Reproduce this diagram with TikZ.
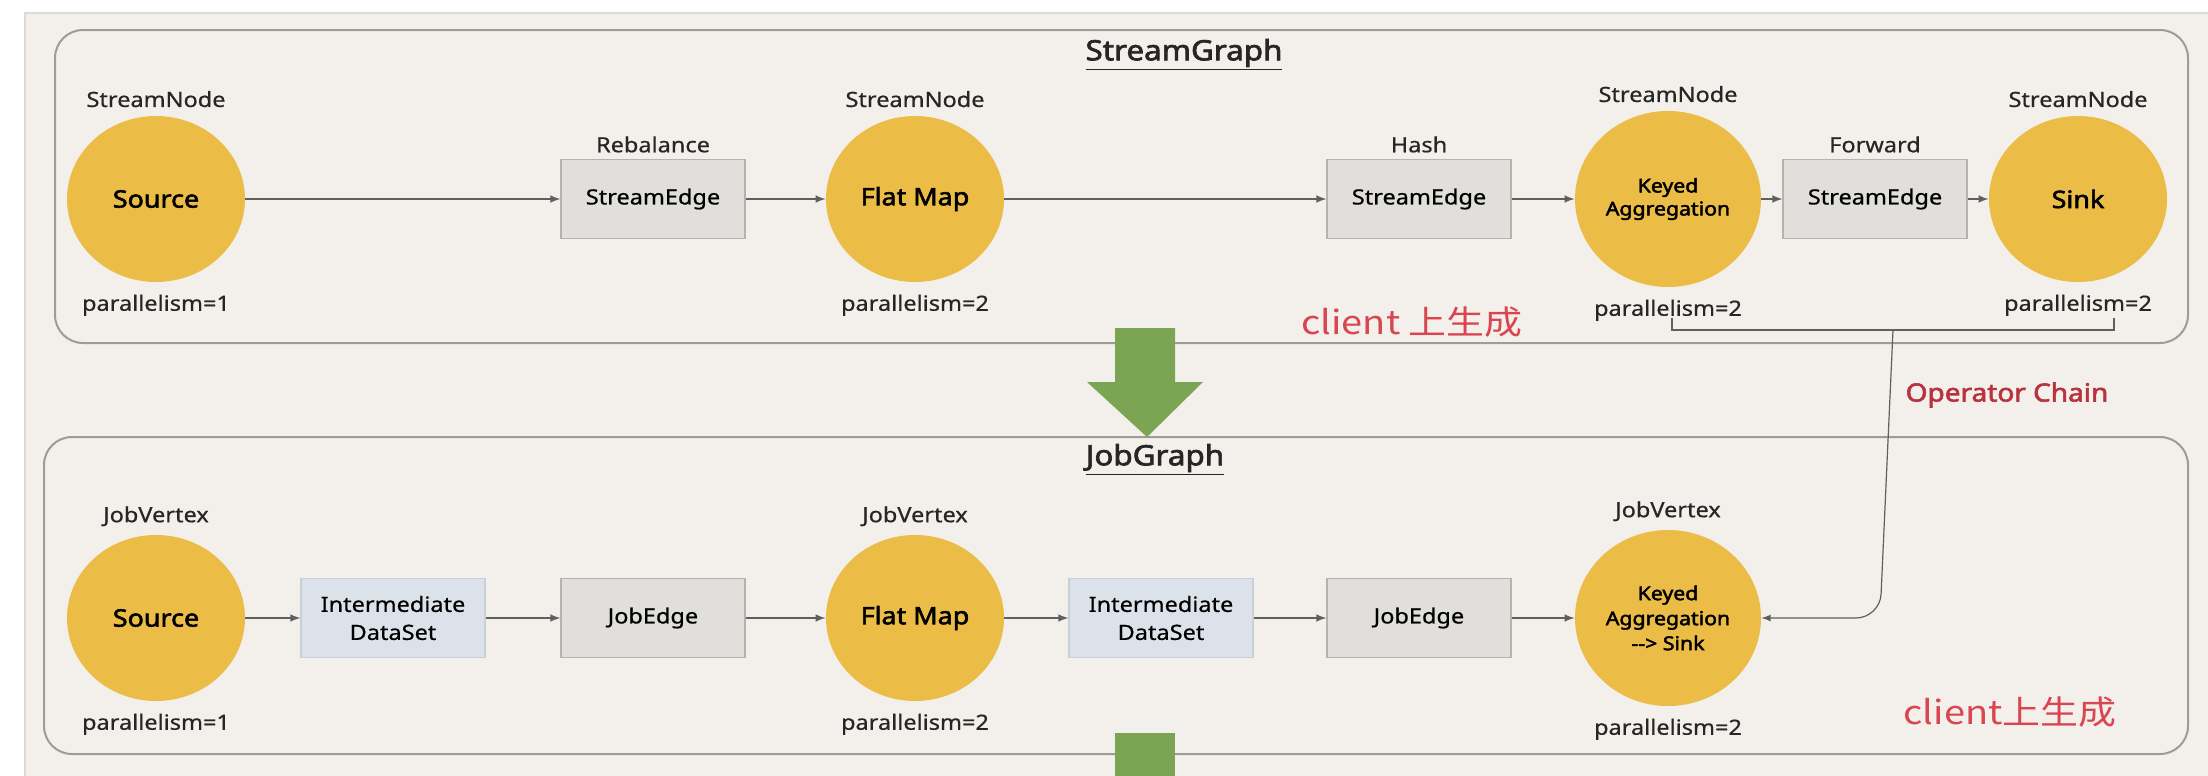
\documentclass[tikz,border=0pt]{standalone}
\usepackage{fontspec}
\setmainfont{Noto Sans}[FakeStretch=1.12,FakeBold=0.6,BoldFont={Noto Sans},BoldFeatures={FakeBold=2.4}]
\newfontfamily\cjk{Noto Sans CJK SC}[FakeStretch=1.15]
\usetikzlibrary{positioning,shapes.geometric}
\definecolor{bgcol}{RGB}{243,240,236}
\definecolor{framegray}{RGB}{220,218,215}
\definecolor{panelgray}{RGB}{158,156,153}
\definecolor{opyellow}{RGB}{235,188,70}
\definecolor{edgegray}{RGB}{225,223,220}
\definecolor{edgeline}{RGB}{182,179,175}
\definecolor{dsblue}{RGB}{220,226,234}
\definecolor{dsline}{RGB}{201,207,216}
\definecolor{flowgray}{RGB}{95,95,95}
\definecolor{arrowgreen}{RGB}{124,165,83}
\definecolor{clientred}{RGB}{217,70,82}
\definecolor{chainred}{RGB}{184,50,63}

\begin{document}
\begin{tikzpicture}[x=0.5pt,y=-0.5pt,
		op/.style={ellipse,fill=opyellow,minimum width=89pt,minimum height=83pt,inner sep=0pt,font=\bfseries\fontsize{12}{14}\selectfont},
		bigop/.style={op,minimum width=93pt,minimum height=88pt,align=center,font=\bfseries\fontsize{9.5}{11.5}\selectfont},
		edgebox/.style={rectangle,fill=edgegray,draw=edgeline,line width=0.6pt,minimum width=92pt,minimum height=39.5pt,font=\fontsize{10.5}{12}\selectfont},
		databox/.style={edgebox,fill=dsblue,draw=dsline,align=center,font=\fontsize{10.5}{14}\selectfont},
		lbl/.style={inner sep=1pt,text=black!85,font=\fontsize{10.5}{12}\selectfont},
		title/.style={inner sep=1pt,text=black!85,font=\bfseries\fontsize{14}{16}\selectfont},
		clientlbl/.style={text=clientred,font=\cjk\fontsize{16.5}{18}\selectfont},
		flow/.style={-latex,draw=flowgray,line width=0.75pt},
		chainline/.style={draw=flowgray,line width=0.6pt},
		panel/.style={draw=panelgray,fill=bgcol,line width=1pt,rounded corners=14pt}]
		\useasboundingbox (0,0) rectangle (2208,776);
		\fill[white] (0,0) rectangle (2208,776);
		\fill[bgcol] (25,13) rectangle (2208,776);
		\draw[framegray,line width=0.8pt] (25,776) -- (25,13) -- (2208,13);
		
		% panels
		\draw[panel] (55,30) rectangle (2188,343);
		\draw[panel] (44,437) rectangle (2188,754);
		\node[title] (sgtitle) at (1184,55) {\underline{StreamGraph}};
		\node[title] (jgtitle) at (1155,460) {\underline{JobGraph}};
		
		% StreamGraph
		\node[op] (src1) at (156,199) {Source};
		\node[edgebox] (reb) at (653,199) {StreamEdge};
		\node[op] (flat1) at (915,199) {Flat Map};
		\node[edgebox] (hash) at (1419,199) {StreamEdge};
		\node[bigop] (keyed1) at (1668,199) {Keyed\\Aggregation};
		\node[edgebox] (fwd) at (1875,199) {StreamEdge};
		\node[op] (sink) at (2078,199) {Sink};
		
		% JobGraph
		\node[op] (src2) at (156,618) {Source};
		\node[databox] (ids1) at (393,618) {Intermediate\\DataSet};
		\node[edgebox] (je1) at (653,618) {JobEdge};
		\node[op] (flat2) at (915,618) {Flat Map};
		\node[databox] (ids2) at (1161,618) {Intermediate\\DataSet};
		\node[edgebox] (je2) at (1419,618) {JobEdge};
		\node[bigop,font=\bfseries\fontsize{9.5}{12.5}\selectfont] (keyed2) at (1668,618) {Keyed\\Aggregation\\{-}{-}> Sink};
		
		\foreach \n/\t in {src1/StreamNode, flat1/StreamNode, keyed1/StreamNode, sink/StreamNode, src2/JobVertex, flat2/JobVertex, keyed2/JobVertex} {
			\node[lbl, above=3pt of \n] (\n-top) {\t};
		}
		\foreach \n/\p in {src1/1, flat1/2, keyed1/2, sink/2, src2/1, flat2/2, keyed2/2} {
			\node[lbl, below=5pt of \n] (\n-par) {parallelism=\p};
		}
		\foreach \n/\t in {reb/Rebalance, hash/Hash, fwd/Forward} {
			\node[lbl, above=2pt of \n] (\n-top) {\t};
		}
		\foreach \s/\t in {src1/reb, reb/flat1, flat1/hash, hash/keyed1, keyed1/fwd, fwd/sink, src2/ids1, ids1/je1, je1/flat2, flat2/ids2, ids2/je2, je2/keyed2} {
			\draw[flow] (\s) -- (\t);
		}
		
		% operator chain
		\coordinate (brl) at (1672,318);
		\coordinate (brr) at (2114,318);
		\coordinate (chaintop) at (1893,330);
		\coordinate (chainbend) at (1880,618);
		\draw[chainline] (brl) -- ++(0,12) -| (brr);
		\draw[chainline,-latex,rounded corners=12pt] (chaintop) -- (chainbend) -- (keyed2.east);
		\node[text=chainred,font=\bfseries\fontsize{12.5}{14}\selectfont] (opchain) at (2007,395) {Operator Chain};
		
		\node[clientlbl] (client1) at (1412,322) {client 上生成};
		\node[clientlbl] (client2) at (2010,712) {client上生成};
		
		% big arrows
		\fill[arrowgreen] (1115,328) -- (1175,328) -- (1175,382) -- (1203,382) -- (1147,437) -- (1087,382) -- (1115,382) -- cycle;
		\fill[arrowgreen] (1115,733) rectangle (1175,776);
	\end{tikzpicture}
\end{document}
